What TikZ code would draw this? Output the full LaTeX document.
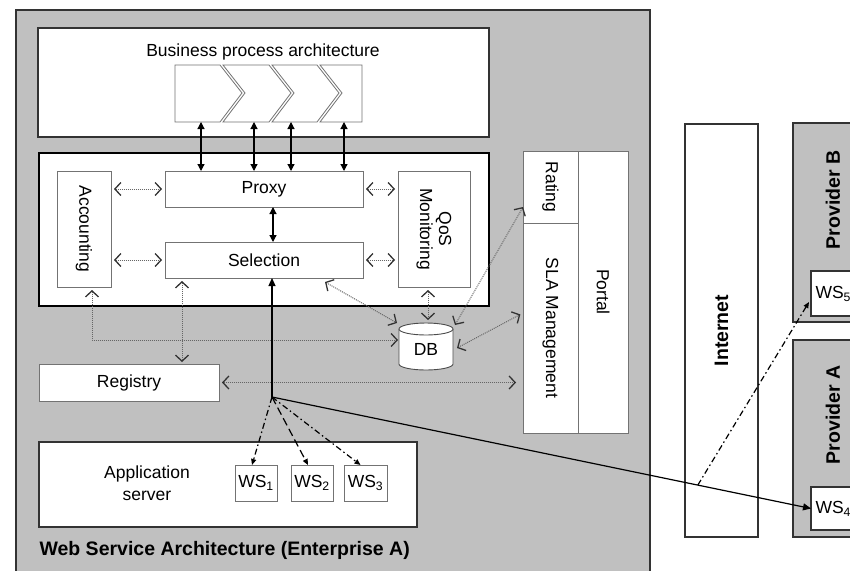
\documentclass[tikz,border=0pt]{standalone}
\usepackage{fontspec}
\setmainfont{Liberation Sans}
\usetikzlibrary{arrows.meta,fit,calc}
\definecolor{panelgray}{RGB}{192,192,192}
\begin{document}
\begin{tikzpicture}[x=1pt,y=-1pt,
  reg/.style={font=\fontsize{17.5}{21}\selectfont},
  bld/.style={font=\fontsize{19.5}{22}\selectfont\bfseries},
  fbox/.style={inner sep=0pt,outer sep=0pt},
  wbox/.style={fbox,draw=black!55,fill=white,line width=0.9pt},
  bigbox/.style={fbox,draw=black!80,fill=white,line width=1.3pt},
  graybox/.style={fbox,draw=black!80,fill=panelgray,line width=1.3pt},
  chev/.style={draw=black!55,fill=white,line width=0.8pt},
  barb/.tip={Straight Barb[length=6pt,width=13pt,line width=1.3pt,color=black!80]},
  dotarr/.style={densely dotted,draw=black!60,line width=1pt,barb-barb},
  solboth/.style={line width=1.2pt,{Triangle[length=7pt,width=7pt]}-{Triangle[length=7pt,width=7pt]}},
  solarr/.style={line width=1.2pt,-{Triangle[length=8pt,width=7pt]}},
  wsarr/.style={line width=1.2pt,-{Triangle[length=6pt,width=5pt]}},
  dd/.style={dash pattern=on 6pt off 3pt on 1.5pt off 3pt},
]
\useasboundingbox (0,0) rectangle (850,570);
\clip (0,0) rectangle (850,570);
\fill[white] (0,0) rectangle (850,570);

% Enterprise A
\node[graybox,line width=1.6pt,fit={(16,10) (650,600)}] (enta) {};

% Business process architecture
\node[bigbox,fit={(38,28) (489,137)}] (bpa) {};
\node[reg] (bpat) at (263,52) {Business process architecture};
\draw[chev] (175,65) -- (220,65) -- (242,93) -- (220,122) -- (175,122) -- cycle;
\draw[chev] (223,65) -- (269,65) -- (291,93) -- (269,122) -- (223,122) -- (245,93) -- cycle;
\draw[chev] (272,65) -- (317,65) -- (339,93) -- (317,122) -- (272,122) -- (294,93) -- cycle;
\draw[chev] (320,65) -- (362,65) -- (362,122) -- (320,122) -- (342,93) -- cycle;

% core box
\node[fbox,draw=black,line width=2pt,fill=white,fit={(39,153) (489,306)}] (core) {};
\node[wbox,fit={(57,171) (111,287)},label={[reg,rotate=-90]center:Accounting}] (acc) {};
\node[wbox,fit={(165,171) (363,207)},label={[reg]center:Proxy}] (proxy) {};
\node[wbox,fit={(165,242) (363,278)},label={[reg]center:Selection}] (sel) {};
\node[wbox,fit={(398,171) (470,287)},label={[rotate=-90,align=center,font=\fontsize{17.5}{19}\selectfont]center:QoS\\Monitoring}] (qos) {};

% portal
\node[wbox,fit={(523,151) (578,223)},label={[reg,rotate=-90]center:Rating}] (rating) {};
\node[wbox,fit={(523,223) (578,433)},label={[reg,rotate=-90]center:SLA Management}] (sla) {};
\node[wbox,fit={(578,151) (628,433)},label={[reg,rotate=-90]center:Portal}] (portal) {};

% DB
\filldraw[draw=black!70,fill=white,line width=0.9pt] (399,329) -- (399,364) arc[start angle=180,end angle=0,x radius=27,y radius=6] -- (453,329);
\filldraw[draw=black!70,fill=white,line width=0.9pt] (426,329) ellipse [x radius=27,y radius=6];
\node[reg] (db) at (426,349) {DB};
\coordinate (dbw) at (398,340);
\coordinate (dbtl) at (397,323);
\coordinate (dbt) at (428,320);
\coordinate (dbtr) at (455,325);
\coordinate (dbr) at (457,348);

% Registry
\node[wbox,fit={(39,364) (219,401)},label={[reg]center:Registry}] (registry) {};

% Application server
\node[bigbox,fit={(39,442) (417,527)}] (app) {};
\node[reg,align=center,font=\fontsize{17.5}{22}\selectfont] (appt) at (147,483) {Application\\server};
\node[wbox,fit={(235,465) (277,501)},label={[reg]center:WS\textsubscript{1}}] (ws1) {};
\node[wbox,fit={(291,465) (333,501)},label={[reg]center:WS\textsubscript{2}}] (ws2) {};
\node[wbox,fit={(344,465) (387,501)},label={[reg]center:WS\textsubscript{3}}] (ws3) {};
\node[bld,anchor=west] (entat) at (36,550) {Web Service Architecture (Enterprise A)};

% Internet and providers
\node[bigbox,fit={(685,124) (758,537)},label={[bld,rotate=90]center:Internet}] (inet) {};
\node[graybox,fit={(793,123) (880,322)}] (provb) {};
\node[bld,rotate=90] (provbt) at (833,200) {Provider B};
\node[bigbox,fit={(811,271) (880,316)}] (ws5) {};
\node[reg,anchor=west] (ws5t) at (812,294) {WS\textsubscript{5}};
\node[graybox,fit={(793,340) (880,537)}] (prova) {};
\node[bld,rotate=90] (provat) at (833,415) {Provider A};
\node[bigbox,fit={(811,487) (880,530)}] (ws4) {};
\node[reg,anchor=west] (ws4t) at (812,509) {WS\textsubscript{4}};

% chevron <-> proxy
\foreach \x [count=\i] in {201,254,291,344} {
  \coordinate (c\i) at (\x,122);
  \draw[solboth] (c\i) -- (c\i |- proxy.north);
}
% proxy <-> selection
\draw[solboth] ([xshift=9pt]proxy.south) -- ([xshift=9pt]sel.north);

% dotted horizontal links
\draw[dotarr,shorten <=3pt,shorten >=3pt] (acc.east |- proxy.center) -- (proxy.west);
\draw[dotarr,shorten <=3pt,shorten >=3pt] (acc.east |- sel.center) -- (sel.west);
\draw[dotarr,shorten <=3pt,shorten >=3pt] (proxy.east) -- (proxy.east -| qos.west);
\draw[dotarr,shorten <=3pt,shorten >=3pt] (sel.east) -- (sel.east -| qos.west);

% dotted links to DB, registry, portal
\draw[dotarr,shorten <=3pt] ([xshift=8pt]acc.south) |- (dbw);
\coordinate (sr) at (182,0);
\draw[dotarr,shorten <=3pt,shorten >=2pt] (sel.south -| sr) -- (registry.north -| sr);
\draw[dotarr,shorten <=3pt,shorten >=7pt] (registry.east) -- (registry.east -| sla.west);
\coordinate (sdb) at (325,282);
\draw[dotarr] (sdb) -- (dbtl);
\draw[dotarr,shorten <=3pt] ([xshift=-6pt]qos.south) -- (dbt);
\draw[dotarr] (dbtr) -- ([yshift=-20pt]rating.west);
\draw[dotarr,shorten >=3pt] (dbr) -- ($(sla.west)+(0,-15)$);

% solid web service links
\coordinate (br) at (272,397);
\draw[solarr] (br) -- (br |- sel.south);
\draw[solarr] (br) -- (ws4.west);
\coordinate (ib) at ($(br)!0.79!(ws4.west)$);
\draw[wsarr,dd] (ib) -- ($(ws5.south west)+(-2,-14)$);
\draw[wsarr,dd] (br) -- ([xshift=-4pt]ws1.north);
\draw[wsarr,dash pattern=on 8pt off 4pt] (br) -- ([xshift=-4pt]ws2.north);
\draw[wsarr,dd] (br) -- ([xshift=-5pt]ws3.north);
\end{tikzpicture}
\end{document}
